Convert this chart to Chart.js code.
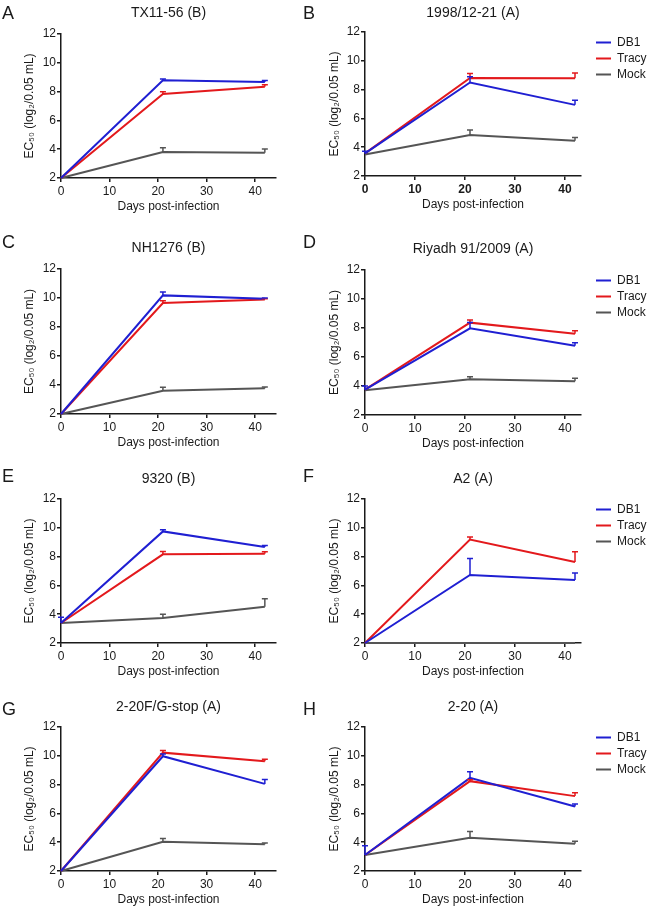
<!DOCTYPE html>
<html>
<head>
<meta charset="utf-8">
<script src="https://cdn.jsdelivr.net/npm/chart.js@4.4.0/dist/chart.umd.min.js"></script>
<style>
    html, body { margin: 0; padding: 0; background: #fff; overflow: hidden; }
    body { width: 650px; height: 907px; position: relative; font-family: "Liberation Sans", Arial, sans-serif; }
    .panel { position: absolute; }
    .letra { position: absolute; font-size: 18px; line-height: 20px; color: #1a1a1a; }
</style>
</head>
<body>
<script>
// Datos (EC50, log2/0.05 mL)
const dias = [0, 21, 42];
const series = ['DB1', 'Tracy', 'Mock'];
const titulos = ['TX11-56 (B)', '1998/12-21 (A)', 'NH1276 (B)', 'Riyadh 91/2009 (A)',
                 '9320 (B)', 'A2 (A)', '2-20F/G-stop (A)', '2-20 (A)'];
const letras = ['A', 'B', 'C', 'D', 'E', 'F', 'G', 'H'];
const yTicks = [2, 4, 6, 8, 10, 12];
const xTicks = [0, 10, 20, 30, 40];

const db1Media = [
    [2, 8.78, 8.67],
    [3.57, 8.49, 6.94],
    [2, 10.18, 9.95],
    [3.75, 7.98, 6.78],
    [3.39, 9.75, 8.67],
    [2, 6.72, 6.38],
    [2, 9.97, 8.05],
    [3.11, 8.47, 6.48]
];
const db1Error = [
    [0, 0.1, 0.1],
    [0.15, 0.4, 0.32],
    [0, 0.23, 0.05],
    [0.25, 0.4, 0.2],
    [0.4, 0.12, 0.1],
    [0, 1.15, 0.48],
    [0, 0.16, 0.3],
    [0.65, 0.42, 0.18]
];
const tracyMedia = [
    [2, 7.83, 8.33],
    [3.57, 8.81, 8.79],
    [2, 9.65, 9.9],
    [3.75, 8.37, 7.61],
    [3.39, 8.16, 8.2],
    [2, 9.18, 7.63],
    [2, 10.22, 9.62],
    [3.11, 8.24, 7.2]
];
const tracyError = [
    [0, 0.16, 0.14],
    [0, 0.3, 0.37],
    [0, 0.16, 0.05],
    [0, 0.18, 0.2],
    [0, 0.2, 0.14],
    [0, 0.18, 0.7],
    [0, 0.14, 0.14],
    [0, 0.1, 0.23]
];
const mockMedia = [
    [2, 3.8, 3.76],
    [3.5, 4.84, 4.45],
    [2, 3.61, 3.77],
    [3.7, 4.46, 4.33],
    [3.39, 3.74, 4.52],
    [2, 2, 2],
    [2, 4.03, 3.85],
    [3.11, 4.31, 3.89]
];
const mockError = [
    [0, 0.3, 0.25],
    [0, 0.35, 0.23],
    [0, 0.23, 0.1],
    [0, 0.18, 0.2],
    [0, 0.25, 0.55],
    [0, 0, 0],
    [0, 0.23, 0.09],
    [0, 0.44, 0.18]
];

const colores = ['#1f1fd2', '#e3191c', '#555555'];
const tinta = '#1a1a1a';

// Posición de cada panel en la página
const columnas = [
    { x: 0,   eje: 61,  derecha: 276, xMax: 44.3, padTituloY: 22.8, letraX: 2 },
    { x: 325, eje: 365, derecha: 581, xMax: 43.2, padTituloY: 2.8,  letraX: 303 }
];
const areaArriba = [33.7, 32.3, 269.3, 270, 499.3, 499.3, 726.7, 726.7];
const areaAbajo  = [177.7, 176.7, 414, 415, 643.3, 643.3, 871, 871];
const tituloY    = [13.3, 13.3, 248.3, 248.7, 479, 479, 707.3, 707.3];
const letraY     = [12.5, 12.5, 241, 241, 475, 475, 708, 708];

Chart.defaults.font.family = '"Liberation Sans", Arial, sans-serif';
Chart.defaults.color = tinta;

// Barras de error (solo hacia arriba) con tope
const barrasError = {
    id: 'barrasError',
    afterDatasetsDraw(chart) {
        const { ctx, scales: { x, y } } = chart;
        for (let i = chart.data.datasets.length - 1; i >= 0; i--) {
            const ds = chart.data.datasets[i];
            if (!ds.errores) continue;
            ctx.save();
            ctx.strokeStyle = ds.borderColor;
            ctx.lineWidth = 1.5;
            ds.data.forEach((p, j) => {
                const e = ds.errores[j];
                if (!e) return;
                const px = x.getPixelForValue(p.x);
                const p0 = y.getPixelForValue(p.y);
                const p1 = y.getPixelForValue(p.y + e);
                ctx.beginPath();
                ctx.moveTo(px, p0);
                ctx.lineTo(px, p1);
                ctx.moveTo(px - 3, p1);
                ctx.lineTo(px + 3, p1);
                ctx.stroke();
            });
            ctx.restore();
        }
    }
};

// Leyenda pegada al lado derecho del área
const moverLeyenda = {
    id: 'moverLeyenda',
    afterLayout(chart) {
        const lg = chart.legend;
        if (!lg || !lg.options.display) return;
        lg.left = chart.chartArea.right + 11;
        lg.right = chart.width;
        lg.width = lg.right - lg.left;
        lg.top = chart.chartArea.top + 0.5;
    }
};

function crearPanel(i) {
    const col = columnas[i % 2];
    const conLeyenda = i % 2 === 1;
    const t = areaArriba[i];
    const b = areaAbajo[i];
    const top = t - 34;
    const alto = Math.round(b - t) + 74;

    const div = document.createElement('div');
    div.className = 'panel';
    div.style.left = col.x + 'px';
    div.style.top = top + 'px';
    const canvas = document.createElement('canvas');
    canvas.width = 325;
    canvas.height = alto;
    canvas.style.width = '325px';
    canvas.style.height = alto + 'px';
    div.appendChild(canvas);
    document.body.appendChild(div);

    const letra = document.createElement('div');
    letra.className = 'letra';
    letra.textContent = letras[i];
    letra.style.left = col.letraX + 'px';
    letra.style.top = (letraY[i] - 9.5) + 'px';
    document.body.appendChild(letra);

    const medias = [db1Media[i], tracyMedia[i], mockMedia[i]];
    const errores = [db1Error[i], tracyError[i], mockError[i]];

    const padTop = tituloY[i] - top - 8.4;

    new Chart(canvas.getContext('2d'), {
        type: 'line',
        data: {
            datasets: series.map((nombre, k) => ({
                label: nombre,
                data: dias.map((d, j) => ({ x: d, y: medias[k][j] })),
                errores: errores[k],
                borderColor: colores[k],
                backgroundColor: colores[k],
                borderWidth: 2,
                pointRadius: 0,
                tension: 0,
                clip: false
            }))
        },
        options: {
            responsive: false,
            animation: false,
            layout: {
                padding: { left: 0, top: 0, right: conLeyenda ? 29 : 325 - (col.derecha - col.x), bottom: 4 }
            },
            plugins: {
                title: {
                    display: true,
                    text: titulos[i],
                    fullSize: false,
                    color: tinta,
                    font: { size: 14, weight: 'normal' },
                    padding: { top: padTop, bottom: 34 - padTop - 16.8 }
                },
                legend: {
                    display: conLeyenda,
                    position: 'right',
                    align: 'start',
                    maxWidth: 40,
                    labels: {
                        usePointStyle: true,
                        pointStyle: 'line',
                        pointStyleWidth: 15,
                        padding: 4,
                        color: tinta,
                        font: { size: 12 }
                    }
                },
                tooltip: { enabled: false }
            },
            scales: {
                x: {
                    type: 'linear',
                    min: 0,
                    max: col.xMax,
                    z: 1,
                    afterBuildTicks: s => { s.ticks = xTicks.map(v => ({ value: v })); },
                    afterFit: s => { s.height = 36; },
                    grid: { display: true, drawOnChartArea: false, drawTicks: true, tickLength: 4, color: tinta, lineWidth: 1.5 },
                    border: { display: true, color: tinta, width: 1.5 },
                    ticks: {
                        color: tinta,
                        padding: 2,
                        maxRotation: 0,
                        font: { size: 12, weight: i === 1 ? 'bold' : 'normal' }
                    },
                    title: {
                        display: true,
                        text: 'Days post-infection',
                        color: tinta,
                        font: { size: 12 },
                        padding: { top: 0, bottom: 0.5 }
                    }
                },
                y: {
                    min: 2,
                    max: 12,
                    z: 1,
                    afterBuildTicks: s => { s.ticks = yTicks.map(v => ({ value: v })); },
                    afterFit: s => { s.width = col.eje - col.x; },
                    grid: { display: true, drawOnChartArea: false, drawTicks: true, tickLength: 4, color: tinta, lineWidth: 1.5 },
                    border: { display: true, color: tinta, width: 1.5 },
                    ticks: { color: tinta, padding: 1, font: { size: 12 } },
                    title: {
                        display: true,
                        text: 'EC₅₀ (log₂/0.05 mL)',
                        color: tinta,
                        font: { size: 12 },
                        padding: { top: col.padTituloY, bottom: 0 }
                    }
                }
            }
        },
        plugins: [barrasError, moverLeyenda]
    });
}

document.addEventListener('DOMContentLoaded', () => {
    for (let i = 0; i < 8; i++) crearPanel(i);
});
</script>
</body>
</html>
